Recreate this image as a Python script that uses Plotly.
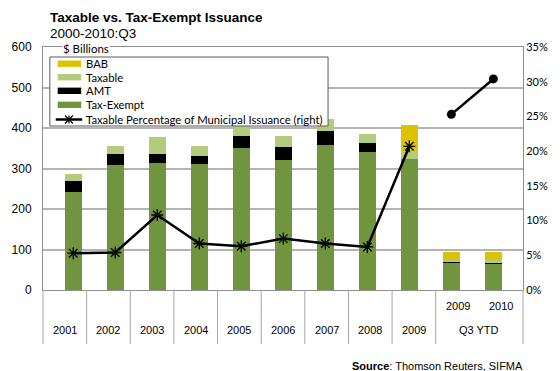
import plotly.graph_objects as go

# Category axis: outer level (year / period group) and inner level (YTD year)
period = ["2001", "2002", "2003", "2004", "2005", "2006", "2007", "2008", "2009", "Q3 YTD", "Q3 YTD"]
sub_year = ["", "", "", "", "", "", "", "", "", "2009", "2010"]

# Issuance, $ billions
tax_exempt = [242, 309, 314, 311, 351, 320, 358, 340, 323, 69, 65]
amt = [28, 26, 23, 21, 29, 34, 35, 22, 0, 1, 1]
taxable = [16, 21, 41, 24, 26, 27, 30, 23, 20, 4, 7]
bab = [0, 0, 0, 0, 0, 0, 0, 0, 64, 20, 22]

# Taxable share of municipal issuance, percent (right axis)
taxable_pct_annual = [5.3, 5.4, 10.8, 6.7, 6.3, 7.4, 6.7, 6.2, 20.7]
taxable_pct_ytd = [25.3, 30.4]

C_TE = "#71943e"
C_TAX = "#b3cb7c"
C_AMT = "#000000"
C_BAB = "#dcc300"

W, H = 560, 371
L, R, T, B = 37, 33, 47, 81
PW, PH = W - L - R, H - T - B


def px(xp):
    return (xp - L) / PW


def py(yp):
    return (H - B - yp) / PH


x_all = [period, sub_year]
fig = go.Figure()
for name, vals, col in [("Tax-Exempt", tax_exempt, C_TE), ("AMT", amt, C_AMT),
                        ("Taxable", taxable, C_TAX), ("BAB", bab, C_BAB)]:
    fig.add_trace(go.Bar(x=x_all, y=vals, name=name, marker=dict(color=col, line=dict(width=0)),
                         width=0.4, showlegend=False))

fig.add_trace(go.Scatter(
    x=[period[:9], sub_year[:9]], y=[v / 100 for v in taxable_pct_annual], yaxis="y2",
    mode="lines+markers", line=dict(color="black", width=2.5),
    marker=dict(symbol="asterisk-open", size=10, line=dict(color="black", width=1.3)),
    showlegend=False))
fig.add_trace(go.Scatter(
    x=[period[9:], sub_year[9:]], y=[v / 100 for v in taxable_pct_ytd], yaxis="y2",
    mode="lines+markers", line=dict(color="black", width=2.5),
    marker=dict(symbol="circle", size=9, color="black"),
    showlegend=False))

GRID = "#b4b4b4"
AX = "#8f8f8f"
fig.update_layout(
    width=W, height=H, margin=dict(l=L, r=R, t=T, b=B, pad=0),
    paper_bgcolor="white", plot_bgcolor="white",
    barmode="stack", showlegend=False,
    font=dict(family="Liberation Sans, Arial", color="black"),
    xaxis=dict(type="multicategory", showline=True, linecolor=AX, linewidth=1, mirror=True,
               showgrid=False, ticks="", showticklabels=False, showdividers=False),
    yaxis=dict(range=[0, 600], dtick=100, showgrid=True, gridcolor=GRID, gridwidth=1.5,
               zeroline=False, showline=True, linecolor=AX, linewidth=1, ticks="",
               tickfont=dict(size=12), ticklabelstandoff=8),
    yaxis2=dict(range=[0, 0.35], dtick=0.05, tickformat=".0%", overlaying="y", side="right",
                showgrid=False, zeroline=False, showline=True, linecolor=AX, linewidth=1,
                ticks="", tickfont=dict(family="Lato", size=11)),
)

shapes = []
annotations = []

# two-level category labels and group separators below the plot
n = len(period)
groups = []
for i, p in enumerate(period):
    if groups and groups[-1][0] == p:
        groups[-1][2] = i
    else:
        groups.append([p, i, i])
edges = [0] + [g[2] + 1 for g in groups]
for k in edges:
    shapes.append(dict(type="line", xref="paper", yref="paper", x0=k / n, x1=k / n,
                       y0=py(290), y1=py(344), line=dict(color="#a6a6a6", width=1)))
tick_font = dict(family="Liberation Sans, Arial", size=11, color="black")
for p, i0, i1 in groups:
    annotations.append(dict(text=p, xref="paper", yref="paper", x=(i0 + i1 + 1) / 2 / n, y=py(330),
                            xanchor="center", yanchor="middle", showarrow=False, font=tick_font))
for i, s in enumerate(sub_year):
    if s:
        annotations.append(dict(text=s, xref="paper", yref="paper", x=(i + 0.5) / n, y=py(306),
                                xanchor="center", yanchor="middle", showarrow=False, font=tick_font))

# legend box
shapes.append(dict(type="rect", xref="paper", yref="paper", x0=px(44), x1=px(328), y0=py(126), y1=py(57),
                   fillcolor="white", line=dict(color="#5a5a5a", width=1), layer="above"))
rows = [("BAB", C_BAB, 63.7), ("Taxable", C_TAX, 77.2), ("AMT", C_AMT, 90.8), ("Tax-Exempt", C_TE, 104.8)]
for label, col, yc in rows:
    shapes.append(dict(type="rect", xref="paper", yref="paper", x0=px(52), x1=px(76),
                       y0=py(yc + 3.2), y1=py(yc - 3.2), fillcolor=col, line=dict(width=0), layer="above"))
line_y = 119.5
shapes.append(dict(type="line", xref="paper", yref="paper", x0=px(50), x1=px(77), y0=py(line_y), y1=py(line_y),
                   line=dict(color="black", width=2.5), layer="above"))
cx, r = 63.5, 4
for dx, dy in [(r, r), (r, -r), (0, r)]:
    shapes.append(dict(type="line", xref="paper", yref="paper", x0=px(cx - dx), x1=px(cx + dx),
                       y0=py(line_y - dy), y1=py(line_y + dy), line=dict(color="black", width=1.2), layer="above"))

legend_font = dict(family="Lato", size=11.3, color="black")
for label, col, yc in rows:
    annotations.append(dict(text=label, xref="paper", yref="paper", x=px(79), y=py(yc), xanchor="left",
                            yanchor="middle", showarrow=False, font=legend_font))
annotations.append(dict(text="Taxable Percentage of Municipal Issuance (right)", xref="paper", yref="paper",
                        x=px(79), y=py(line_y), xanchor="left", yanchor="middle", showarrow=False,
                        font=legend_font))
annotations.append(dict(text="$ Billions", xref="paper", yref="paper", x=px(81), y=py(49), xanchor="center",
                        yanchor="middle", showarrow=False, bgcolor="white", borderpad=0,
                        font=dict(family="Lato", size=11.5, color="black")))
annotations.append(dict(text="<b>Taxable vs. Tax-Exempt Issuance</b>", xref="paper", yref="paper",
                        x=px(42), y=py(18), xanchor="left", yanchor="middle", showarrow=False,
                        font=dict(size=13.5, color="black")))
annotations.append(dict(text="2000-2010:Q3", xref="paper", yref="paper",
                        x=px(42), y=py(34), xanchor="left", yanchor="middle", showarrow=False,
                        font=dict(size=13.5, color="black")))
annotations.append(dict(text="<b>Source</b>: Thomson Reuters, SIFMA", xref="paper", yref="paper",
                        x=px(529), y=py(366), xanchor="right", yanchor="middle", showarrow=False,
                        font=dict(size=11, color="black")))

fig.update_layout(shapes=shapes, annotations=annotations)
fig.write_html("out.html")
